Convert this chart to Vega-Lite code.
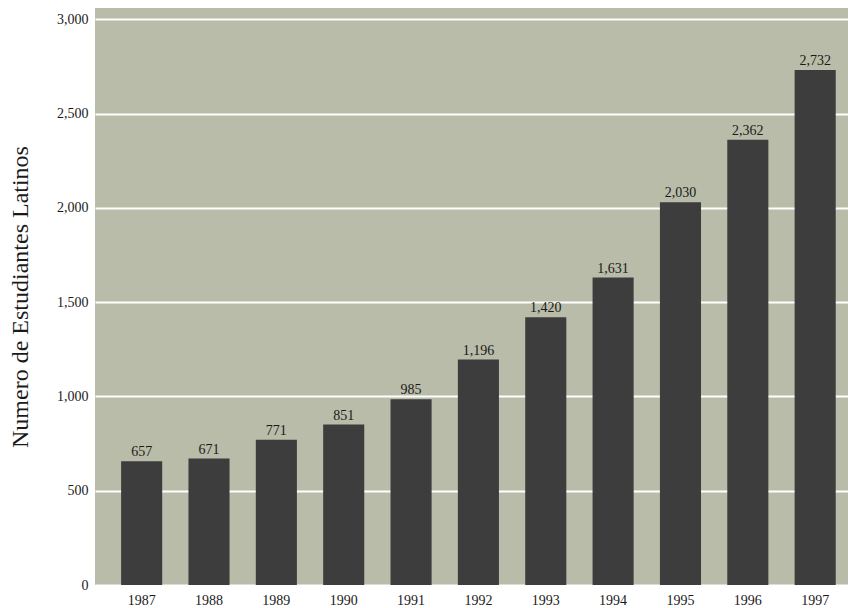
{
  "$schema": "https://vega.github.io/schema/vega-lite/v6.json",
  "autosize": {"type": "none"},
  "width": 753,
  "height": 577,
  "padding": {"left": 95, "top": 8, "right": 0, "bottom": 23},
  "background": "white",
  "config": {
    "view": {"fill": "#b8bca8", "stroke": null},
    "font": "Liberation Serif",
    "axis": {"labelFont": "Liberation Serif", "titleFont": "Liberation Serif", "labelColor": "#1a1a1a", "titleColor": "#1a1a1a"}
  },
  "data": {
    "values": [
      {"year": "1987", "students": 657, "label": "657"},
      {"year": "1988", "students": 671, "label": "671"},
      {"year": "1989", "students": 771, "label": "771"},
      {"year": "1990", "students": 851, "label": "851"},
      {"year": "1991", "students": 985, "label": "985"},
      {"year": "1992", "students": 1196, "label": "1,196"},
      {"year": "1993", "students": 1420, "label": "1,420"},
      {"year": "1994", "students": 1631, "label": "1,631"},
      {"year": "1995", "students": 2030, "label": "2,030"},
      {"year": "1996", "students": 2362, "label": "2,362"},
      {"year": "1997", "students": 2732, "label": "2,732"}
    ]
  },
  "encoding": {
    "x": {
      "field": "year",
      "type": "ordinal",
      "scale": {"paddingInner": 0.39, "paddingOuter": 0.285, "align": 0.68},
      "axis": {"title": null, "labelAngle": 0, "ticks": false, "domain": false, "labelPadding": 8, "labelFontSize": 14, "labelBaseline": "top"}
    },
    "y": {
      "field": "students",
      "type": "quantitative",
      "scale": {"domain": [0, 3061], "nice": false, "zero": true},
      "axis": {
        "title": "Numero de Estudiantes Latinos",
        "titleFontSize": 24,
        "titleFontWeight": "normal",
        "titleX": -63,
        "values": [0, 500, 1000, 1500, 2000, 2500, 3000],
        "format": ",d",
        "labelFontSize": 14,
        "labelPadding": 7,
        "ticks": false,
        "domain": false,
        "grid": true,
        "gridColor": "#ffffff",
        "gridWidth": 2,
        "gridOpacity": 1
      }
    }
  },
  "layer": [
    {"mark": {"type": "bar", "color": "#3d3d3d"}},
    {
      "mark": {"type": "text", "baseline": "alphabetic", "dy": -5, "fontSize": 14, "color": "#1a1a1a", "font": "Liberation Serif"},
      "encoding": {"text": {"field": "label"}}
    }
  ]
}
